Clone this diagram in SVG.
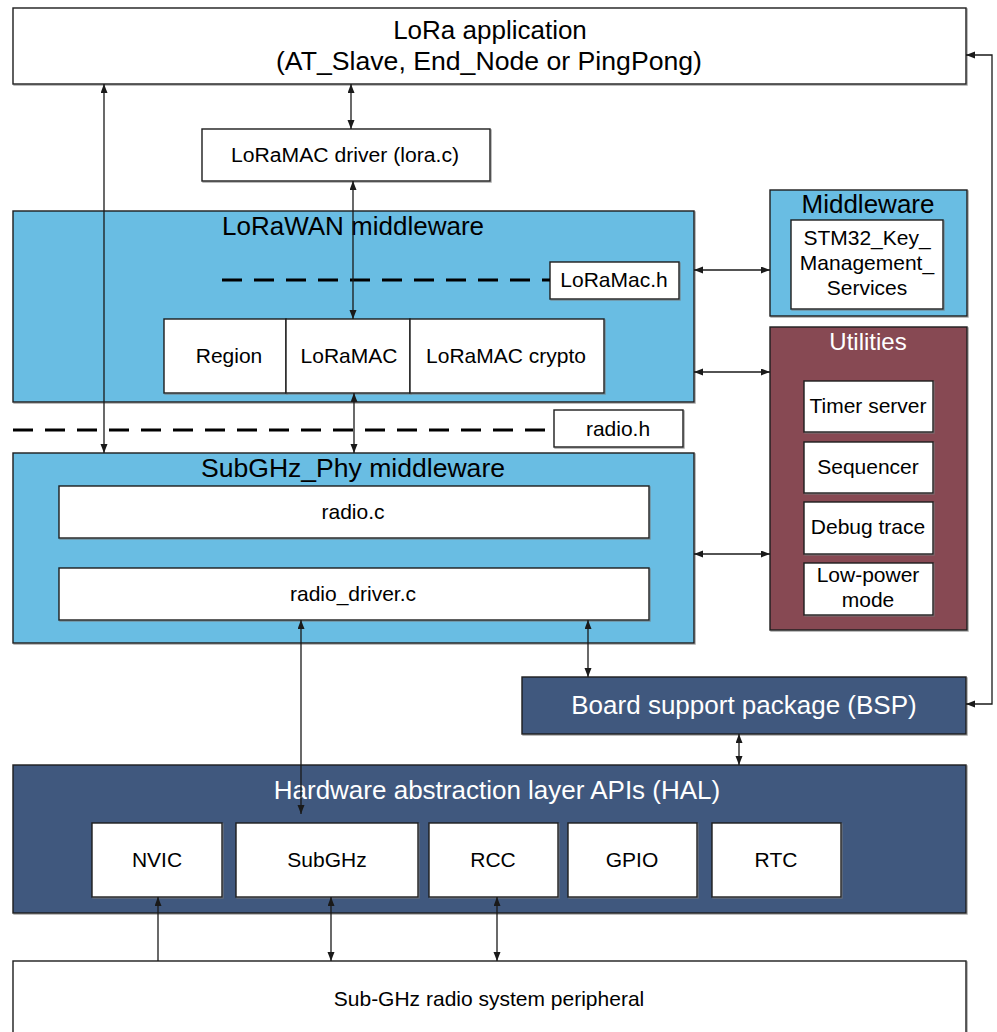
<svg xmlns="http://www.w3.org/2000/svg" width="997" height="1032" viewBox="0 0 997 1032">
<defs>
<style>
.box{stroke:#1e1e1e;stroke-width:1.4;filter:url(#sh)}
.w{fill:#ffffff}
.lb{fill:#69bde3}
.mr{fill:#874a52}
.db{fill:#40597e}
text{font-family:"Liberation Sans",Arial,sans-serif;text-anchor:middle;fill:#000}
.t26{font-size:26px}
.t21{font-size:21px}
.t20{font-size:20px}
.wt{fill:#ffffff}
.cn{fill:none;stroke:#1a1a1a;stroke-width:1.3}
.dash{fill:none;stroke:#000;stroke-width:3;stroke-dasharray:20 12}
</style>
<filter id="sh" x="-5%" y="-5%" width="110%" height="110%">
<feDropShadow dx="1" dy="1" stdDeviation="0.6" flood-color="#777" flood-opacity="0.7"/>
</filter>
<marker id="ah" markerUnits="userSpaceOnUse" markerWidth="10" markerHeight="8" refX="9" refY="3.5" orient="auto-start-reverse">
<path d="M0,0 L9,3.5 L0,7 z" fill="#1a1a1a"/>
</marker>
</defs>
<rect width="997" height="1032" fill="#ffffff"/>

<g id="lora-app">
<rect class="box w" x="13" y="8" width="953" height="76"/>
<text class="t26" x="490" y="39">LoRa application</text>
<text class="t26" x="489" y="70" textLength="426" lengthAdjust="spacingAndGlyphs">(AT_Slave, End_Node or PingPong)</text>
</g>

<g id="loramac-driver">
<rect class="box w" x="202" y="129" width="288" height="52"/>
<text class="t20" x="345" y="162" textLength="228" lengthAdjust="spacingAndGlyphs">LoRaMAC driver (lora.c)</text>
</g>

<g id="lorawan-mw">
<rect class="box lb" x="13" y="211" width="681" height="191"/>
<text class="t26" x="353" y="235">LoRaWAN middleware</text>
</g>

<g id="loramac-h">
<rect class="box w" x="550" y="262" width="129" height="37"/>
<text class="t21" x="614" y="287">LoRaMac.h</text>
</g>

<g id="region">
<rect class="box w" x="164" y="319" width="122" height="74"/>
<text class="t21" x="229" y="363">Region</text>
</g>
<g id="loramac">
<rect class="box w" x="286" y="319" width="124" height="74"/>
<text class="t21" x="349" y="363">LoRaMAC</text>
</g>
<g id="loramac-crypto">
<rect class="box w" x="410" y="319" width="194" height="74"/>
<text class="t21" x="506" y="363">LoRaMAC crypto</text>
</g>

<g id="radio-h">
<rect class="box w" x="554" y="410" width="129" height="37"/>
<text class="t21" x="618" y="436">radio.h</text>
</g>

<g id="subghz-phy">
<rect class="box lb" x="13" y="453" width="681" height="190"/>
<text class="t26" x="353" y="477" textLength="304" lengthAdjust="spacingAndGlyphs">SubGHz_Phy middleware</text>
</g>
<g id="radio-c">
<rect class="box w" x="59" y="486" width="590" height="52"/>
<text class="t21" x="353" y="519">radio.c</text>
</g>
<g id="radio-driver">
<rect class="box w" x="59" y="568" width="590" height="52"/>
<text class="t21" x="353" y="601">radio_driver.c</text>
</g>

<g id="middleware">
<rect class="box lb" x="770" y="190" width="197" height="126"/>
<text class="t26" x="868" y="213">Middleware</text>
</g>
<g id="kms">
<rect class="box w" x="791" y="220" width="152" height="89"/>
<text class="t21" x="867" y="245">STM32_Key_</text>
<text class="t21" x="867" y="270">Management_</text>
<text class="t21" x="867" y="295">Services</text>
</g>

<g id="utilities">
<rect class="box mr" x="770" y="327" width="197" height="303"/>
<text class="wt" x="868" y="350" style="font-size:24px">Utilities</text>
</g>
<g id="timer-server">
<rect class="box w" x="804" y="381" width="129" height="51"/>
<text class="t21" x="868" y="413">Timer server</text>
</g>
<g id="sequencer">
<rect class="box w" x="804" y="442" width="129" height="51"/>
<text class="t21" x="868" y="474">Sequencer</text>
</g>
<g id="debug-trace">
<rect class="box w" x="804" y="502" width="129" height="52"/>
<text class="t21" x="868" y="534">Debug trace</text>
</g>
<g id="low-power">
<rect class="box w" x="804" y="563" width="129" height="52"/>
<text class="t21" x="868" y="582">Low-power</text>
<text class="t21" x="868" y="607">mode</text>
</g>

<g id="bsp">
<rect class="box db" x="522" y="677" width="444" height="57"/>
<text class="t26 wt" x="744" y="714">Board support package (BSP)</text>
</g>

<g id="hal">
<rect class="box db" x="13" y="765" width="953" height="148"/>
<text class="t26 wt" x="497" y="799">Hardware abstraction layer APIs (HAL)</text>
</g>
<g id="nvic">
<rect class="box w" x="92" y="823" width="130" height="74"/>
<text class="t21" x="157" y="867">NVIC</text>
</g>
<g id="subghz">
<rect class="box w" x="236" y="823" width="182" height="74"/>
<text class="t21" x="327" y="867">SubGHz</text>
</g>
<g id="rcc">
<rect class="box w" x="429" y="823" width="129" height="74"/>
<text class="t21" x="493" y="867">RCC</text>
</g>
<g id="gpio">
<rect class="box w" x="568" y="823" width="129" height="74"/>
<text class="t21" x="632" y="867">GPIO</text>
</g>
<g id="rtc">
<rect class="box w" x="712" y="823" width="129" height="74"/>
<text class="t21" x="776" y="867">RTC</text>
</g>

<g id="subghz-peripheral">
<rect class="box w" x="13" y="961" width="953" height="80"/>
<text class="t21" x="489" y="1006">Sub-GHz radio system peripheral</text>
</g>

<g id="separators">
<path class="dash" d="M222,280 H550"/>
<path class="dash" d="M13,430 H554"/>
</g>

<g id="connectors">
<path class="cn" d="M104,84 V453" marker-start="url(#ah)" marker-end="url(#ah)"/>
<path class="cn" d="M351,84 V129" marker-start="url(#ah)" marker-end="url(#ah)"/>
<path class="cn" d="M353,181 V319" marker-start="url(#ah)" marker-end="url(#ah)"/>
<path class="cn" d="M354,393 V453" marker-start="url(#ah)" marker-end="url(#ah)"/>
<path class="cn" d="M694,270 H770" marker-start="url(#ah)" marker-end="url(#ah)"/>
<path class="cn" d="M694,372 H770" marker-start="url(#ah)" marker-end="url(#ah)"/>
<path class="cn" d="M694,554 H770" marker-start="url(#ah)" marker-end="url(#ah)"/>
<path class="cn" d="M301,620 V814" marker-start="url(#ah)" marker-end="url(#ah)"/>
<path class="cn" d="M588,620 V677" marker-start="url(#ah)" marker-end="url(#ah)"/>
<path class="cn" d="M739,734 V765" marker-start="url(#ah)" marker-end="url(#ah)"/>
<path class="cn" d="M966,55 H992 V704 H966" marker-start="url(#ah)" marker-end="url(#ah)"/>
<path class="cn" d="M158,961 V897" marker-end="url(#ah)"/>
<path class="cn" d="M331,897 V961" marker-start="url(#ah)" marker-end="url(#ah)"/>
<path class="cn" d="M497,897 V961" marker-start="url(#ah)" marker-end="url(#ah)"/>
</g>
</svg>
